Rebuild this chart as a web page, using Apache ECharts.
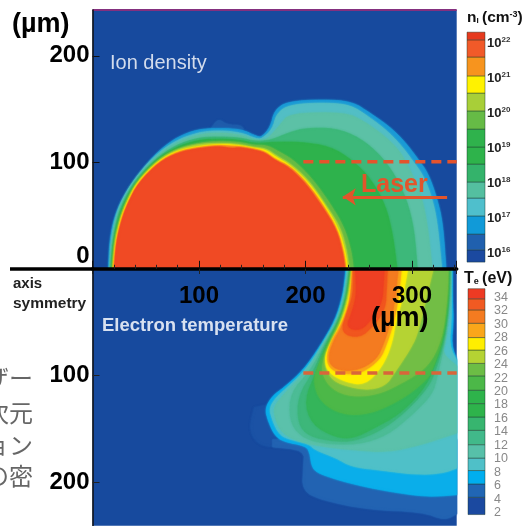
<!DOCTYPE html>
<html><head><meta charset="utf-8">
<style>html,body{margin:0;padding:0;background:#fff;overflow:hidden}#c{width:526px;height:526px;filter:blur(0.5px)}</style>
<script src="https://cdn.jsdelivr.net/npm/echarts@6/dist/echarts.min.js"></script>
</head><body><div id="c"></div>
<script>
// ---- axis ticks ----
const xTicks=[100,200,300];
const yTicks=[0,100,200];
const xMaxUm=342, ionYMax=243, tempYMax=241;

// ---- ion density contours, upper panel, [x um, y um], outer to inner ----
const ionFaint=[[112,133],[118,141],[127,135],[140,135],[143,129],[112,129]];
const ion17=[[15,0],[16,25],[20,47],[28,66],[43,89],[62,111],[80,124],[99,131],[118,132],[140,131],[155,124],[159,124],[167,133],[171,149],[183,157],[216,159],[244,157],[261,146],[277,135],[292,121],[305,104],[315,90],[323,68],[329,43],[332,0]];
const ion175=[[16,0],[17,25],[21,47],[27,64],[39,84],[57,105],[77,120],[99,128],[118,130],[139,128],[154,122],[159,122],[169,131],[173,146],[185,154],[216,156],[242,154],[259,143],[275,131],[289,117],[301,101],[311,87],[319,66],[324,42],[328,0]];
const ion18=[[16.5,0],[18,25],[22,47],[28,63],[39.5,83],[58,104],[77,118],[99,126],[118,128],[139,126],[153.5,120.5],[163,121],[170,128],[176,135],[185,146],[237,147],[256,138],[275,124],[289,110],[298,93],[307,74],[314,46],[319,0]];
const ion185=[[17,0],[19,25],[23,47],[29,63],[40,83],[59,103],[78,116],[99,123],[118,124],[139,123],[153,119.5],[167,120.5],[185,128],[200,132],[228,132],[251,123],[270,107],[284,88],[295,65],[302,37],[305,0]];
const ion19=[[18,0],[19.5,25],[24,46],[30,63],[41,82],[59.5,102.5],[78,114],[99,121],[118,122],[138,121],[152,117.5],[171,119],[195,119],[223,115],[244,102],[261,85],[275,60],[282,32],[286,0]];
const ion20=[[18.5,0],[20,25],[25,46],[31,63],[41.5,82],[60,102],[79,113],[99,118],[118,120],[138,119],[151.5,116],[164,116],[175,110],[189,102],[206,85],[222,63],[236,40],[243,17],[245,0]];
const ion205=[[19,0],[21,25],[26,46],[32,62],[42,82],[61,101],[79,112],[99,117],[118,118],[138,117],[151,114],[163,113],[173,106],[187,98],[204,82],[219,60],[233,39],[239,16],[241,0]];
const ion21=[[19.5,0],[21.5,25],[26,46],[32,62],[42,81.5],[61,101],[79.5,111],[99,115],[118,117],[137,116],[151,113.5],[163,111.5],[172,105],[186,97],[203,81],[218,60],[231,38],[237.5,15.5],[239.5,0]];
const ion215=[[20,0],[22,25],[27,46],[33,62],[43,81],[62,100.5],[80,110],[99,114],[118,116],[137,115],[150,113],[162,110],[171,103],[186,96],[202,80],[217,59],[230,37],[236,15],[238,0]];
const ion22=[[20.5,0],[22.5,25],[27.5,46],[33.5,62],[43.5,81],[62.5,100],[80,109],[99,113],[118,115],[132,113],[137,114],[150,112],[162,109],[171,102],[185,95],[201,79],[216,58],[229,37],[235,15],[237,0]];

// ---- electron temperature contours, lower panel, [x um, y um], outer to inner ----
const temFaint=[[152,130],[147,150],[155,165],[175,168],[175,125]];
const tem4=[[169,167],[199,170],[198,186],[197,208],[215,217],[259,226],[309,228],[331,236],[342,230],[342,160],[169,160]];
const tem6=[[238,0],[237,10],[235,25],[228,48],[214,72],[198,95],[179,112],[169,119],[162,131],[165,143],[171,156],[179,162],[200,166],[204,172],[206,186],[212,192],[240,201],[278,209],[315,214],[342,212],[342,85],[337,71],[339,48],[338,29],[338,0]];
const tem8=[[239,0],[236,25],[229,48],[215,72],[200,95],[181,113],[172,121],[166,131],[169,142],[174,153],[181,159],[203,164],[209,170],[228,177],[244,186],[272,189],[303,193],[328,192],[342,187],[342,86],[335,72],[337,48],[337,29],[337,0]];
const tem10=[[240,0],[237,25],[230,48],[216,72],[202,95],[183,114],[175,123],[170,131],[172,142],[178,154],[193,162],[218,167],[246,170],[277,172],[309,165],[342,154],[342,91],[328,79],[332,67],[336,29],[336.5,0]];
const tem12=[[241,0],[238,25],[231,48],[217,72],[205,95],[186,116],[185,142],[195,157],[215,164],[249,165],[277,156],[300,137],[319,118],[324,100],[331,67],[335.5,29],[336,0]];
const tem14=[[241.5,0],[238.5,25],[231.5,48],[218,72],[208,95],[193,120],[193,145],[203,157],[228,162],[246,161.5],[270,152],[292,136],[312,115],[321,100],[330.5,67],[335,29],[335.5,0]];
const tem16=[[242,0],[239,25],[232,48],[219,72],[211,95],[199,123],[206,146],[228,158],[245,159],[265,149],[287,137],[307,118],[318,100],[330,67],[334.5,29],[335,0]];
const tem20=[[242.5,0],[239.5,25],[232.5,48],[220,72],[213,88],[207,105],[214,125],[235,137],[262,136],[293,121],[314,104],[319,95],[329,67],[334,29],[334.5,0]];
const tem22=[[243,0],[240,25],[233,48],[221,72],[216,88],[216,100],[225,113],[243,120],[268,118],[293,106],[315,92],[328,67],[333,29],[334,0]];
const tem24=[[243.5,0],[240.5,25],[234,48],[223,72],[218,85],[220,96],[228,107],[256,114],[275,110],[284,97],[298,76],[305,62],[313,29],[320,0]];
const tem26=[[244,0],[241.5,25],[235,48],[222,72],[218,84],[221,97],[237,106],[256,109],[272,92],[281,71],[285,48],[291,29],[296,0]];
const tem28=[[244.2,0],[242,30],[234,52],[224,68],[219.5,84],[224,95],[239,99],[254,97],[270,85],[276,71],[282,53],[287,30],[290,0]];
const tem30=[[244.5,0],[242.5,30],[235,53],[226,68],[221,84],[226,93],[239,96],[254,93],[267,84],[273,71],[279,53],[284,30],[287,0]];
const tem32=[[245,0],[245,24],[239,41],[233,60],[251,65],[265,52],[275,37],[276,18],[277,0]];
const tem34=[[247,0],[248,25],[244,40],[238,55],[252,58],[264,45],[272,30],[273,15],[274,0]];

// ---- annotation values ----
const ionDash=[[198,100.5],[342,100.5]];
const tempDash=[[198,97.7],[342,97.7]];
const laserFrom=[333,67.6], laserTo=[235,67.6];
const topEdge=[[0,243],[342,243]];

// ---- colour bars: [low, high] of each band ----
const niBands=[[15.74,16.09],[16.09,16.54],[16.54,17.06],[17.06,17.57],[17.57,18.03],[18.03,18.54],[18.54,19.03],[19.03,19.54],[19.54,20.06],[20.06,20.57],[20.57,21.06],[21.06,21.6],[21.6,22.09],[22.09,22.31]];
const teBands=[[1.7,4.27],[4.27,6.26],[6.26,8.25],[8.25,10.1],[10.1,12.1],[12.1,14.23],[14.23,16.22],[16.22,18.21],[18.21,20.2],[20.2,22.34],[22.34,24.19],[24.19,26.18],[26.18,28.03],[28.03,30.16],[30.16,32.15],[32.15,33.8],[33.8,35.3]];
const niTicks=[16,17,18,19,20,21,22];
const teTicks=[2,4,6,8,10,12,14,16,18,20,22,24,26,28,30,32,34];

// ---- styles ----
const BG='#174a9e';
const niPalette=['#1b49a0','#2060ae','#119ad8','#4fbfcc','#54bfa0','#34b36b','#2eb34b','#2fb24c','#66bb46','#a8cf38','#fff200','#f7941e','#f15a29','#e63a1e'];
const tePalette=['#1b49a0','#2166b4','#00aeef','#4fc0c8','#57c0a9','#41b98a','#37b56f','#2eb34b','#2eb34b','#4cb848','#6cbd45','#b5d333','#ffee00','#faa61a','#f47b20','#f15a22','#ee3a23'];
const ionLayers=[[ionFaint,'#1f5cab'],[ion17,'#1b9bd6'],[ion175,'#52bec5'],[ion18,'#5cc1a6'],[ion185,'#3db87a'],[ion19,'#2eb24c'],[ion20,'#66bb46'],[ion205,'#a8cf38'],[ion21,'#fff200'],[ion215,'#f7941e'],[ion22,'#f04a24']];
const tempLayers=[[temFaint,'#1b52a5'],[tem4,'#2263b2'],[tem6,'#0aaeea'],[tem8,'#4fc0c8'],[tem10,'#5bc1ab'],[tem12,'#4cbc96'],[tem14,'#3db77a'],[tem16,'#34b55a'],[tem20,'#4cb848'],[tem22,'#72be45'],[tem24,'#b5d333'],[tem26,'#ffee00'],[tem28,'#faa61a'],[tem30,'#f47b20'],[tem32,'#f1561f'],[tem34,'#ee4023']];

const FONT='"Liberation Sans", Arial, sans-serif';
const bigLabel={color:'#000',fontFamily:FONT,fontWeight:'bold',fontSize:24};

// rounds a contour polyline; points on the panel's right edge stay sharp
function rounded(pts){
  let out=pts;
  for(let k=0;k<2;k++){
    const r=[out[0]];
    for(let i=1;i<out.length-1;i++){
      const p=out[i],a=out[i-1],b=out[i+1];
      if(p[0]>=341.9){r.push(p);continue;}
      r.push([p[0]*.75+a[0]*.25,p[1]*.75+a[1]*.25]);
      r.push([p[0]*.75+b[0]*.25,p[1]*.75+b[1]*.25]);
    }
    r.push(out[out.length-1]);
    out=r;
  }
  return out;
}
function contourSeries(layers,gi){
  return {type:'custom',xAxisIndex:gi,yAxisIndex:gi,silent:true,clip:true,z:2,
    data:layers.map((l,i)=>[i,i]),
    renderItem(p,api){
      const l=layers[p.dataIndex];
      return {type:'polygon',shape:{points:rounded(l[0]).map(q=>api.coord(q))},
        style:{fill:l[1],stroke:l[1],lineWidth:0.5,shadowBlur:2,shadowColor:l[1]}};
    }};
}
function bandSeries(bands,palette,gi){
  return {type:'custom',xAxisIndex:gi,yAxisIndex:gi,silent:true,clip:false,z:2,
    data:bands.map((b,i)=>[0,b[0]]),
    renderItem(p,api){
      const b=bands[p.dataIndex];
      const a=api.coord([0,b[1]]),c=api.coord([1,b[0]]);
      return {type:'rect',shape:{x:a[0],y:a[1],width:c[0]-a[0],height:c[1]-a[1]},
        style:{fill:palette[p.dataIndex],stroke:'rgba(20,50,40,0.55)',lineWidth:0.8}};
    }};
}
function dash(data,gi,color){
  return {type:'line',xAxisIndex:gi,yAxisIndex:gi,data,symbol:'none',silent:true,clip:false,z:5,
    lineStyle:{color,width:3.5,type:[10,6]}};
}
const hiddenX=i=>({type:'value',gridIndex:i,min:0,max:1,show:false});

const option={
  animation:false,backgroundColor:'#fff',
  grid:[
    {left:92.5,top:10,width:364.2,height:258.8,show:true,backgroundColor:BG,borderWidth:0},
    {left:92.5,top:269,width:364.2,height:256.7,show:true,backgroundColor:BG,borderWidth:0},
    {left:467,top:8,width:18,height:280},
    {left:468,top:284,width:17,height:253}
  ],
  xAxis:[
    {type:'value',gridIndex:0,min:0,max:xMaxUm,interval:100,position:'bottom',z:6,
     axisLine:{show:true,onZero:false,lineStyle:{color:'#000',width:3.5}},
     axisTick:{show:true,inside:true,length:8,lineStyle:{color:'#111',width:1}},
     minorTick:{show:true,splitNumber:5,length:4,lineStyle:{color:'#222',width:1}},
     axisLabel:{show:false},splitLine:{show:false},minorSplitLine:{show:false}},
    {type:'value',gridIndex:1,min:0,max:xMaxUm,interval:100,position:'top',z:6,
     axisLine:{show:false},
     axisTick:{show:true,inside:true,length:5,lineStyle:{color:'#222',width:1}},
     axisLabel:{show:true,inside:true,margin:15,...bigLabel,verticalAlign:'top',
       customValues:xTicks,formatter:v=>String(v)},
     splitLine:{show:false}},
    hiddenX(2),hiddenX(3)
  ],
  yAxis:[
    {type:'value',gridIndex:0,min:0,max:ionYMax,interval:100,z:6,
     axisLine:{show:true,onZero:false,lineStyle:{color:'#111',width:1.5}},
     axisTick:{show:true,inside:true,length:7,customValues:yTicks.slice(1),lineStyle:{color:'#111',width:1}},
     axisLabel:{show:true,margin:3,...bigLabel,verticalAlignMinLabel:'bottom',customValues:yTicks,formatter:v=>String(v)},
     splitLine:{show:false}},
    {type:'value',gridIndex:1,min:0,max:tempYMax,interval:100,inverse:true,z:6,
     axisLine:{show:true,onZero:false,lineStyle:{color:'#111',width:1.5}},
     axisTick:{show:true,inside:true,length:7,customValues:yTicks.slice(1),lineStyle:{color:'#222',width:1}},
     axisLabel:{show:true,margin:3,...bigLabel,customValues:yTicks.slice(1),formatter:v=>String(v)},
     splitLine:{show:false}},
    {type:'value',gridIndex:2,min:15,max:23,interval:1,position:'right',
     axisLine:{show:false},axisTick:{show:false},splitLine:{show:false},
     axisLabel:{show:true,margin:2,color:'#111',fontFamily:FONT,customValues:niTicks,
       formatter:v=>'{a|10}{s|'+v+'}',
       rich:{a:{fontSize:13,fontWeight:'bold',color:'#222',fontFamily:FONT},s:{fontSize:8,fontWeight:'bold',color:'#333',padding:[0,0,6,0],fontFamily:FONT}}}},
    {type:'value',gridIndex:3,min:0,max:36,interval:2,position:'right',
     axisLine:{show:false},axisTick:{show:false},splitLine:{show:false},
     axisLabel:{show:true,margin:9,color:'#888',fontFamily:FONT,fontSize:12.5,customValues:teTicks,formatter:v=>String(v)}}
  ],
  series:[
    contourSeries(ionLayers,0),
    contourSeries(tempLayers,1),
    dash(ionDash,0,'#e4532c'),
    dash(tempDash,1,'#d9653a'),
    {type:'line',xAxisIndex:0,yAxisIndex:0,data:topEdge,symbol:'none',silent:true,clip:false,z:5,
     lineStyle:{color:'#84307f',width:2}},
    {type:'line',xAxisIndex:0,yAxisIndex:0,data:[],silent:true,z:5,
     markLine:{silent:true,animation:false,symbol:['arrow','none'],symbolSize:13,label:{show:false},
       lineStyle:{color:'#e2552b',width:3,type:'solid'},
       data:[[{coord:laserTo},{coord:laserFrom}]]}},
    bandSeries(niBands,niPalette,2),
    bandSeries(teBands,tePalette,3)
  ],
  graphic:[
    {type:'rect',shape:{x:10,y:267.2,width:84,height:3.6},style:{fill:'#000'},z:20},
    {type:'text',x:12,y:25,style:{text:'(\u00b5m)',font:'bold 27px '+FONT,fill:'#000',verticalAlign:'middle'},z:20},
    {type:'text',x:110,y:63,style:{text:'Ion density',font:'20px '+FONT,fill:'#d3dcec',verticalAlign:'middle'},z:20},
    {type:'text',x:361,y:185,style:{text:'Laser',font:'bold 25px '+FONT,fill:'#e2552b',verticalAlign:'middle'},z:20},
    {type:'text',x:13,y:284,style:{text:'axis',font:'bold 15px '+FONT,fill:'#222',verticalAlign:'middle'},z:20},
    {type:'text',x:13,y:304,style:{text:'symmetry',font:'bold 15.5px '+FONT,fill:'#222',verticalAlign:'middle'},z:20},
    {type:'text',x:102,y:326,style:{text:'Electron temperature',font:'bold 18.5px '+FONT,fill:'#d8e1f0',verticalAlign:'middle'},z:20},
    {type:'text',x:371,y:319,style:{text:'(\u00b5m)',font:'bold 27px '+FONT,fill:'#000',verticalAlign:'middle'},z:20},
    {type:'text',x:467,y:18,style:{text:'{b|n}{i|I} {b|(cm}{u|-3}{b|)}',verticalAlign:'middle',fill:'#111',
      rich:{b:{font:'bold 15.5px '+FONT,fill:'#111'},i:{font:'bold 8px '+FONT,fill:'#111',padding:[5,0,0,0]},u:{font:'bold 9px '+FONT,fill:'#111',padding:[0,0,6,0]}}},z:20},
    {type:'text',x:464,y:279,style:{text:'{b|T}{i|e} {b|(eV)}',verticalAlign:'middle',fill:'#111',
      rich:{b:{font:'bold 16px '+FONT,fill:'#111'},i:{font:'bold 9px '+FONT,fill:'#111',padding:[5,0,0,0]}}},z:20},
    {type:'text',x:33,y:378,style:{text:'\u30b6\u30fc',align:'right',verticalAlign:'middle',font:'24px "Noto Sans CJK JP"',fill:'#666'},z:20},
    {type:'text',x:33,y:413,style:{text:'\u6b21\u5143',align:'right',verticalAlign:'middle',font:'24px "Noto Sans CJK JP"',fill:'#666'},z:20},
    {type:'text',x:33,y:445,style:{text:'\u30e7\u30f3',align:'right',verticalAlign:'middle',font:'24px "Noto Sans CJK JP"',fill:'#666'},z:20},
    {type:'text',x:33,y:476,style:{text:'\u306e\u5bc6',align:'right',verticalAlign:'middle',font:'24px "Noto Sans CJK JP"',fill:'#666'},z:20}
  ]
};
const chart=echarts.init(document.getElementById('c'),null,{renderer:'canvas',width:526,height:526});
chart.setOption(option);
</script></body></html>
